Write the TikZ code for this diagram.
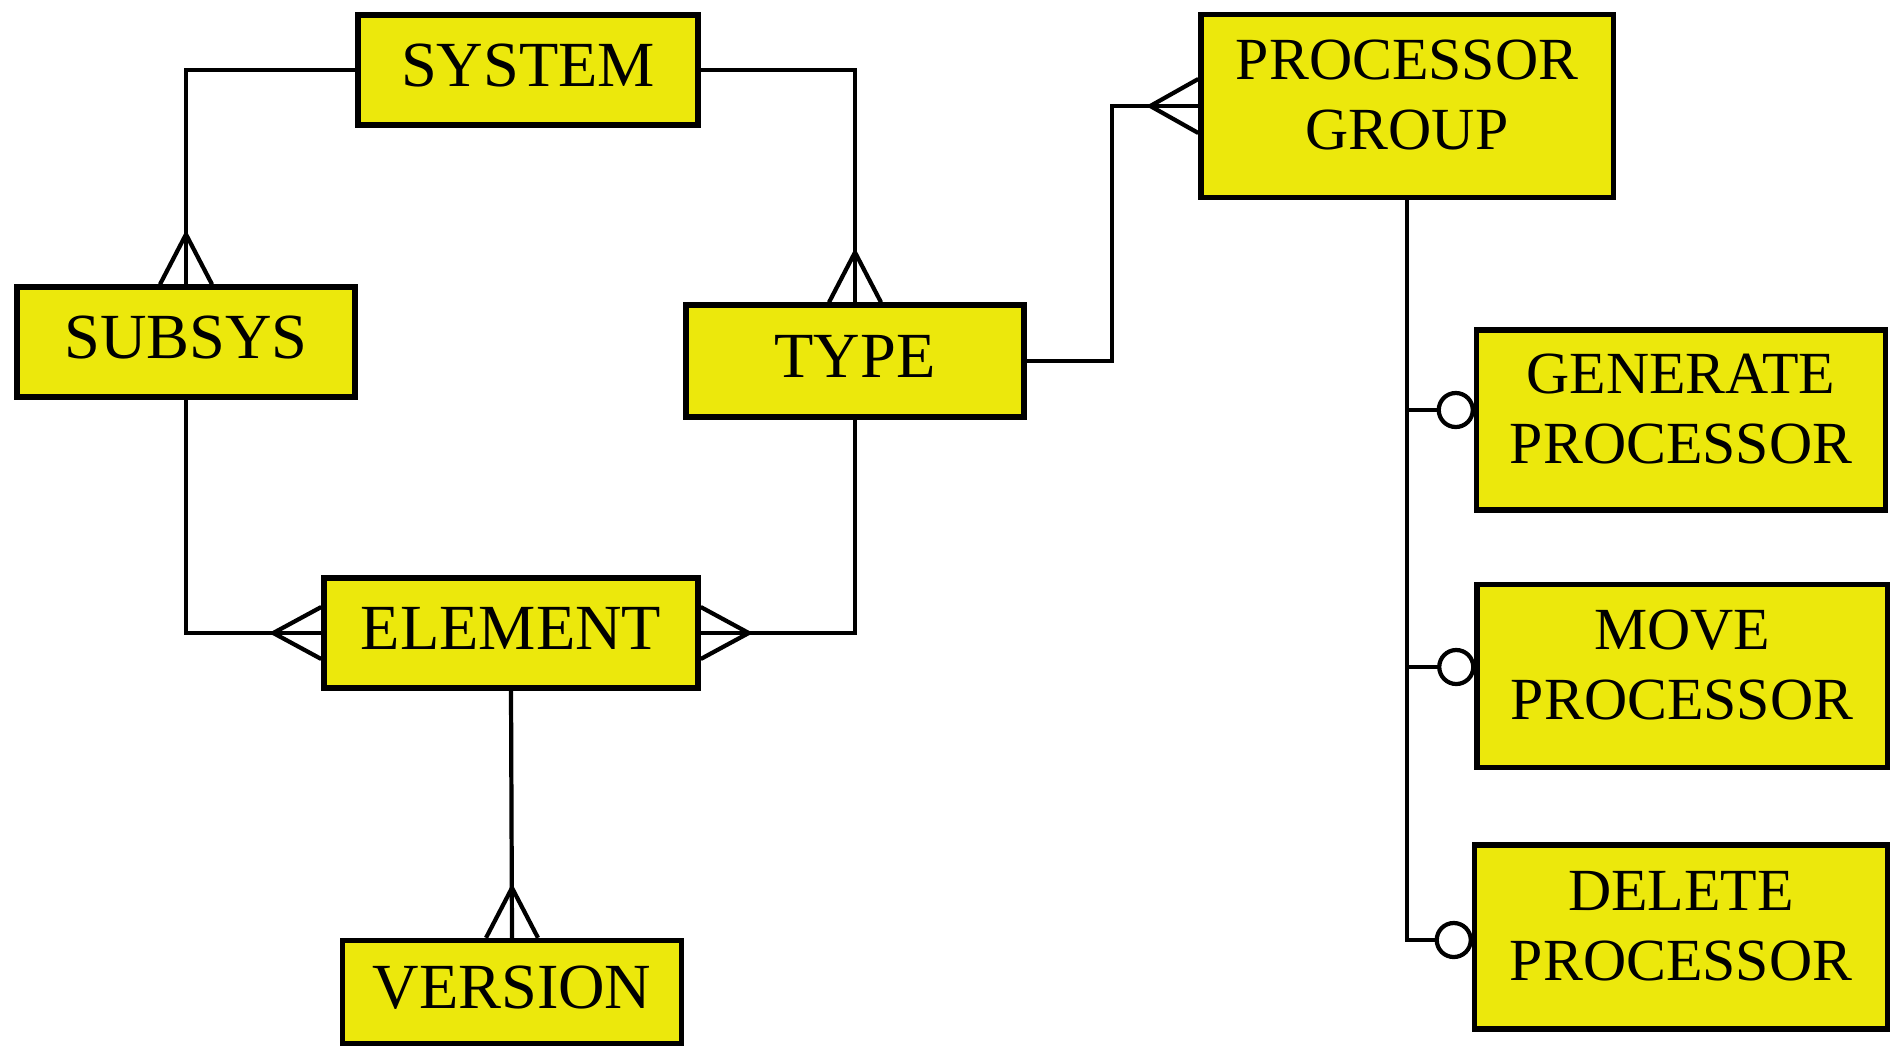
\documentclass[tikz,border=0pt]{standalone}
\usepackage{fontspec}
\setmainfont{Liberation Serif}
\usetikzlibrary{calc}
\definecolor{entyellow}{RGB}{236,232,12}

\begin{document}
\begin{tikzpicture}[x=0.01cm,y=-0.01cm,
  ent/.style={draw,line width=1.5pt,fill=entyellow,inner sep=0pt,align=center,
    text depth=2.8pt,font=\fontsize{18.3}{22}\selectfont},
  ent2/.style={ent,text depth=6.4pt,font=\fontsize{17}{20}\selectfont},
  rel/.style={line width=1.2pt}]
\useasboundingbox (0,0) rectangle (1892,1048);

% entities
\node[ent,minimum width=3.40cm,minimum height=1.10cm] (sys) at (528,70) {SYSTEM};
\node[ent,minimum width=3.38cm,minimum height=1.10cm] (subsys) at (186,342) {SUBSYS};
\node[ent,minimum width=3.38cm,minimum height=1.12cm] (type) at (855,361) {TYPE};
\node[ent,minimum width=3.74cm,minimum height=1.10cm] (elem) at (511,633) {ELEMENT};
\node[ent,minimum width=3.39cm,minimum height=1.03cm] (ver) at (512,992) {VERSION};
\node[ent2,minimum width=4.12cm,minimum height=1.83cm] (pgroup) at (1407,106) {PROCESSOR\\GROUP};
\node[ent2,minimum width=4.09cm,minimum height=1.80cm] (gen) at (1681,420) {GENERATE\\PROCESSOR};
\node[ent2,minimum width=4.10cm,minimum height=1.83cm] (move) at (1682,676) {MOVE\\PROCESSOR};
\node[ent2,minimum width=4.13cm,minimum height=1.84cm] (del) at (1681,937) {DELETE\\PROCESSOR};

% relationships
\draw[rel] (sys.west) -| (subsys.north);
\draw[rel] (sys.east) -| (type.north);
\draw[rel] (subsys.south) |- (elem.west);
\draw[rel] (type.south) |- (elem.east);
\draw[rel] (elem.south) -- (ver.north);
\coordinate (tbend) at (1112,106);
\draw[rel] (type.east) -- (type.east -| tbend) -- (tbend |- pgroup.west) -- (pgroup.west);

% crow's feet
\draw[rel] ($(subsys.north)+(-26,0)$) -- ($(subsys.north)+(0,-50)$) -- ($(subsys.north)+(26,0)$);
\draw[rel] ($(type.north)+(-26,0)$) -- ($(type.north)+(0,-50)$) -- ($(type.north)+(26,0)$);
\draw[rel] ($(ver.north)+(-26,0)$) -- ($(ver.north)+(0,-50)$) -- ($(ver.north)+(26,0)$);
\draw[rel] ($(elem.west)+(0,-26)$) -- ($(elem.west)+(-48,0)$) -- ($(elem.west)+(0,26)$);
\draw[rel] ($(elem.east)+(0,-26)$) -- ($(elem.east)+(48,0)$) -- ($(elem.east)+(0,26)$);
\draw[rel] ($(pgroup.west)+(0,-27)$) -- ($(pgroup.west)+(-48,0)$) -- ($(pgroup.west)+(0,27)$);

% subtypes with optional circles
\coordinate (gc) at ($(gen.west)+(-18,-10)$);
\coordinate (mc) at ($(move.west)+(-18,-9)$);
\coordinate (dc) at ($(del.west)+(-18,3)$);
\draw[rel] (pgroup.south) |- ($(dc)+(-17,0)$);
\draw[rel] (pgroup.south |- gc) -- ($(gc)+(-17,0)$);
\draw[rel] (pgroup.south |- mc) -- ($(mc)+(-17,0)$);
\draw[rel] (gc) circle[radius=0.17cm];
\draw[rel] (mc) circle[radius=0.17cm];
\draw[rel] (dc) circle[radius=0.17cm];
\end{tikzpicture}
\end{document}
